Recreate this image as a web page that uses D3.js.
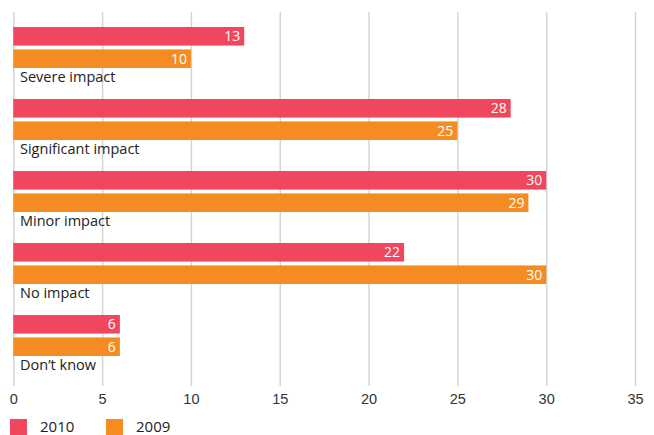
<!DOCTYPE html>
<html>
<head>
<meta charset="utf-8">
<script src="https://cdn.jsdelivr.net/npm/d3@7"></script>
<style>
  html, body { margin: 0; padding: 0; background: #fff; }
  svg { display: block; font-family: "Open Sans", "Noto Sans", sans-serif; }
</style>
</head>
<body>
<svg id="chart" width="654" height="435"></svg>
<script>
// Impact categories, top to bottom
const categories = ["Severe impact", "Significant impact", "Minor impact", "No impact", "Don\u2019t know"];
// Share of respondents per year
const values2010 = [13, 28, 30, 22, 6];
const values2009 = [10, 25, 29, 30, 6];
const years = ["2010", "2009"];
const tickValues = [0, 5, 10, 15, 20, 25, 30, 35];

const colors = { "2010": "#f0475e", "2009": "#f58c22" };
const series = { "2010": values2010, "2009": values2009 };

const svg = d3.select("#chart");

const x = d3.scaleLinear().domain([0, 35]).range([13.3, 635]);
const y = d3.scaleBand().domain(categories).range([19, 379]).padding(0);
const inner = d3.scaleBand().domain(years).range([8, 49]).paddingInner(7 / 41).paddingOuter(0);

// vertical gridlines + tick labels
const axis = d3.axisBottom(x).tickValues(tickValues).tickSize(-374).tickPadding(8).tickFormat(d3.format("d"));
const gAxis = svg.append("g").attr("transform", "translate(0,386)").call(axis);
gAxis.select(".domain").remove();
gAxis.selectAll(".tick line").attr("stroke", "#d2d2d2").attr("stroke-width", 1.4);
gAxis.selectAll(".tick text")
  .attr("fill", "#333")
  .attr("font-size", 14.5)
  .attr("y", 13)
  .attr("dy", "0.36em");

// bars
const groups = svg.append("g").selectAll("g")
  .data(categories)
  .join("g")
  .attr("transform", d => `translate(0,${y(d)})`);

years.forEach(yr => {
  groups.append("rect")
    .attr("x", x(0))
    .attr("y", inner(yr))
    .attr("width", (d, i) => x(series[yr][i]) - x(0))
    .attr("height", inner.bandwidth())
    .attr("fill", colors[yr]);
  groups.append("text")
    .attr("x", (d, i) => x(series[yr][i]) - 4)
    .attr("y", inner(yr) + inner.bandwidth() / 2)
    .attr("dy", "0.36em")
    .attr("text-anchor", "end")
    .attr("fill", "#fff")
    .attr("font-size", 14)
    .text((d, i) => series[yr][i]);
});

// category labels under each pair of bars
groups.append("text")
  .attr("x", 20)
  .attr("y", 58)
  .attr("dy", "0.36em")
  .attr("fill", "#222")
  .attr("font-size", 14.5)
  .text(d => d);

// legend
const legend = svg.append("g").attr("transform", "translate(10,419)");
const items = legend.selectAll("g").data(years).join("g")
  .attr("transform", (d, i) => `translate(${i * 96},0)`);
items.append("rect").attr("width", 17).attr("height", 16).attr("fill", d => colors[d]);
items.append("text")
  .attr("x", 30).attr("y", 8).attr("dy", "0.36em")
  .attr("fill", "#222").attr("font-size", 15)
  .text(d => d);
</script>
</body>
</html>
